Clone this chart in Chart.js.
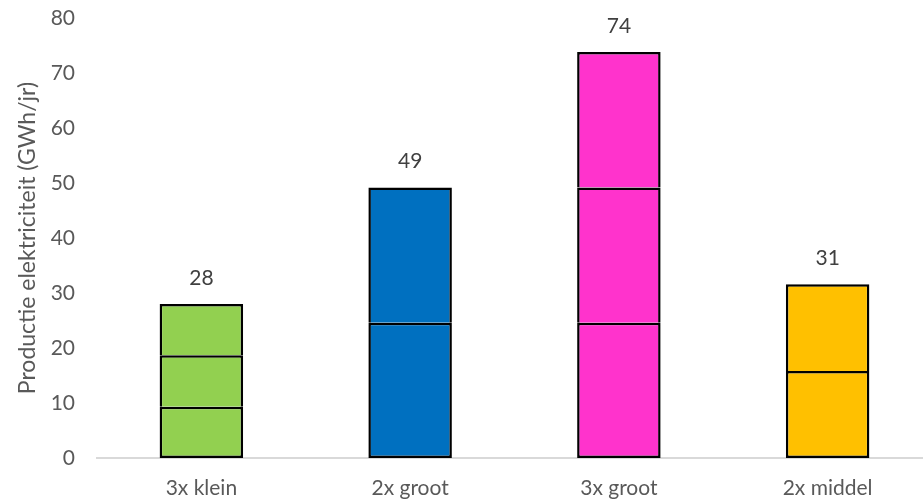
<!DOCTYPE html>
<html>
<head>
<meta charset="utf-8">
<script src="https://cdn.jsdelivr.net/npm/chart.js@4.4.1/dist/chart.umd.min.js"></script>
<style>
  html, body { margin: 0; padding: 0; background: #fff; overflow: hidden; }
  #wrap { width: 932px; height: 503px; }
</style>
</head>
<body>
<div id="wrap"><canvas id="chart"></canvas></div>
<script>
// categories and stacked segments (GWh/jr per turbine)
const categories = ['3x klein', '2x groot', '3x groot', '2x middel'];
const segment1 = [9.33, 24.6, 24.6, 15.8];
const segment2 = [9.33, 24.6, 24.6, 15.8];
const segment3 = [9.33, null, 24.6, null];
const totalLabels = ['28', '49', '74', '31'];
const barColors = ['#92d050', '#0070c0', '#ff33cc', '#ffc000'];
const yTicks = [0, 10, 20, 30, 40, 50, 60, 70, 80];

const font = "Lato, 'Open Sans', sans-serif";
const textColor = '#595959';
const segments = [segment1, segment2, segment3];

// only the lowest segment draws a bottom edge, so inner lines stay single
function edgeWidth(ctx) {
    return { left: 2.5, right: 2.5, top: 2.5, bottom: ctx.datasetIndex === 0 ? 2.5 : 0 };
}

function seg(data) {
    return {
        data: data,
        backgroundColor: barColors,
        borderColor: '#000',
        borderWidth: edgeWidth,
        borderSkipped: false,
        barPercentage: 0.40,
        categoryPercentage: 1.0
    };
}

// total value above every bar
const totalsPlugin = {
    id: 'totals',
    afterDatasetsDraw(chart) {
        const ctx = chart.ctx;
        const y = chart.scales.y;
        const x = chart.scales.x;
        ctx.save();
        ctx.font = '21px ' + font;
        ctx.fillStyle = '#404040';
        ctx.textAlign = 'center';
        ctx.textBaseline = 'middle';
        for (let i = 0; i < categories.length; i++) {
            let sum = (segment1[i] || 0) + (segment2[i] || 0) + (segment3[i] || 0);
            ctx.fillText(totalLabels[i], x.getPixelForValue(i), y.getPixelForValue(sum) - 26);
        }
        ctx.restore();
    }
};

new Chart(document.getElementById('chart'), {
    type: 'bar',
    data: {
        labels: categories,
        datasets: segments.map(seg)
    },
    options: {
        responsive: true,
        maintainAspectRatio: false,
        animation: false,
        layout: { padding: { top: 0, right: 0, bottom: 0, left: 0 } },
        plugins: {
            legend: { display: false },
            tooltip: { enabled: false }
        },
        scales: {
            x: {
                stacked: true,
                afterFit: function(scale) { scale.height = 45; },
                grid: { display: false },
                border: { display: true, color: '#d9d9d9', width: 2 },
                ticks: { color: textColor, font: { family: font, size: 21 }, padding: 10 }
            },
            y: {
                stacked: true,
                min: 0,
                max: 80,
                afterBuildTicks: function(scale) {
                    scale.ticks = yTicks.map(v => ({ value: v }));
                },
                afterFit: function(scale) {
                    scale.width = 97;
                    scale.paddingTop = 18;
                },
                grid: { display: false },
                border: { display: false },
                ticks: { color: textColor, font: { family: font, size: 21 }, padding: 14 },
                title: {
                    display: true,
                    text: 'Productie elektriciteit (GWh/jr)',
                    color: textColor,
                    font: { family: font, size: 23 },
                    padding: { top: 14, bottom: 0 }
                }
            }
        }
    },
    plugins: [totalsPlugin]
});
</script>
</body>
</html>
